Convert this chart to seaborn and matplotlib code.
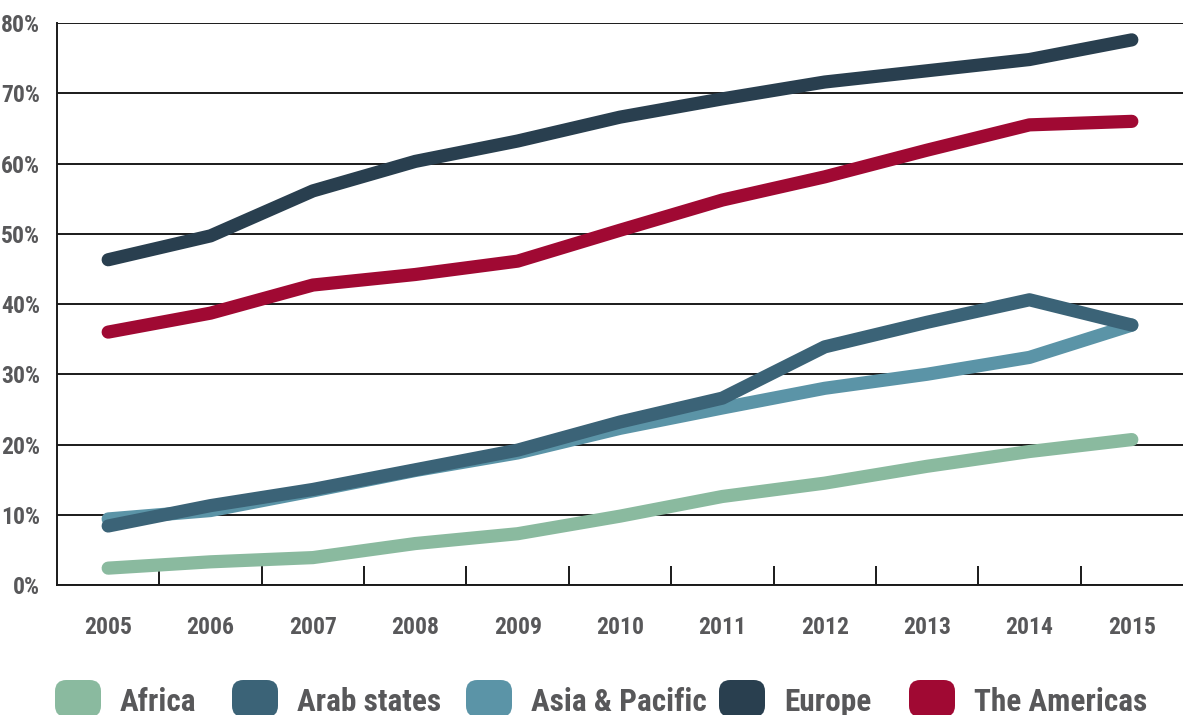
import os
import matplotlib
matplotlib.use("Agg")
import matplotlib.pyplot as plt
import matplotlib.font_manager as fm
import seaborn as sns
import pandas as pd
from matplotlib.patches import FancyBboxPatch
from matplotlib.ticker import FixedLocator, FuncFormatter

years = ["2005", "2006", "2007", "2008", "2009", "2010", "2011", "2012", "2013", "2014", "2015"]
africa = [2.4, 3.3, 3.9, 5.9, 7.3, 9.8, 12.6, 14.5, 16.9, 19.0, 20.7]
arab_states = [8.4, 11.3, 13.6, 16.4, 19.2, 23.2, 26.6, 33.9, 37.4, 40.6, 37.0]
asia_pacific = [9.4, 10.6, 13.4, 16.3, 18.8, 22.3, 25.2, 28.0, 30.0, 32.4, 37.0]
europe = [46.3, 49.7, 56.1, 60.3, 63.2, 66.6, 69.2, 71.6, 73.2, 74.8, 77.6]
americas = [36.0, 38.7, 42.7, 44.2, 46.1, 50.5, 54.8, 58.1, 61.9, 65.5, 66.0]
y_ticks = [0, 10, 20, 30, 40, 50, 60, 70, 80]

series_names = ["Africa", "Arab states", "Asia & Pacific", "Europe", "The Americas"]
series_values = [africa, arab_states, asia_pacific, europe, americas]
colors = {"Africa": "#8aba9f", "Arab states": "#3b6377", "Asia & Pacific": "#5b94a7",
          "Europe": "#293f4f", "The Americas": "#a00933"}

rows = []
for name, vals in zip(series_names, series_values):
    for y, v in zip(years, vals):
        rows.append({"year": y, "value": v, "region": name})
df = pd.DataFrame(rows)
df["x"] = df["year"].map({y: i for i, y in enumerate(years)})


def pick_font():
    files = [f.fname for f in fm.fontManager.ttflist]
    prefs = ["NotoSans-ExtraCondensedBold", "NotoSans-ExtraCondensedSemiBold",
             "RobotoCondensed-Bold", "Roboto_Condensed-Bold", "OpenSans_Condensed-Bold",
             "OpenSans-CondBold", "LiberationSansNarrow-Bold", "NotoSans-CondensedBold",
             "DejaVuSansCondensed-Bold"]
    for p in prefs:
        for f in files:
            if os.path.basename(f).startswith(p):
                return f
    for f in files:
        b = os.path.basename(f).lower()
        if ("condensed" in b or "narrow" in b or "cond" in b) and "bold" in b and "italic" not in b:
            return f
    return None


sns.set_theme(style="white")
plt.rcParams["font.family"] = ["DejaVu Sans"]
font_file = pick_font()


def fprop(size):
    if font_file:
        return fm.FontProperties(fname=font_file, size=size)
    return fm.FontProperties(family="DejaVu Sans", weight="bold", stretch="condensed", size=size)


TXT = "#58585a"
W, H = 1183, 715
fig = plt.figure(figsize=(W / 100, H / 100), dpi=100)
ax = fig.add_axes([57 / W, 1 - 585 / H, 1 - 57 / W, (585 - 23) / H])

draw_order = ["Africa", "Asia & Pacific", "Arab states", "Europe", "The Americas"]
sns.lineplot(data=df, x="x", y="value", hue="region", hue_order=draw_order,
             palette=colors, linewidth=9.5, legend=False, ax=ax,
             solid_capstyle="round", solid_joinstyle="round", zorder=3)

ax.set_xlim(-0.5, len(years) - 0.5)
ax.set_ylim(0, 80)
ax.set_xlabel("")
ax.set_ylabel("")

ax.yaxis.set_major_locator(FixedLocator(y_ticks))
ax.yaxis.set_major_formatter(FuncFormatter(lambda v, p: f"{int(v)}%"))
ax.grid(axis="y", color="#1a1a1a", linewidth=1.4, zorder=1)
ax.set_axisbelow(True)

ax.set_xticks(range(len(years)))
ax.set_xticklabels(years)
ax.set_xticks([i + 0.5 for i in range(len(years) - 1)], minor=True)
ax.tick_params(axis="x", which="major", length=0, pad=22, labelcolor=TXT)
ax.tick_params(axis="x", which="minor", direction="in", length=14, width=1.4, color="#1a1a1a", bottom=True)
ax.tick_params(axis="y", which="major", length=0, pad=12, labelcolor=TXT)

for s in ["top", "right"]:
    ax.spines[s].set_visible(False)
for s in ["left", "bottom"]:
    ax.spines[s].set_color("#1a1a1a")
    ax.spines[s].set_linewidth(1.4)

renderer = fig.canvas.get_renderer()


def width_px(text, size):
    t = fig.text(0, 0, text, fontproperties=fprop(size))
    w = t.get_window_extent(renderer=renderer).width
    t.remove()
    return w


# tick label sizes: target ~17pt, shrink if too wide
tick_size = 17.0
wy = max(width_px(f"{v}%", tick_size) for v in y_ticks)
if wy > 42:
    tick_size *= 42 / wy
for lab in ax.get_yticklabels() + ax.get_xticklabels():
    lab.set_fontproperties(fprop(tick_size))

# legend
legend_x = [55, 232, 466, 719, 909]
next_x = legend_x[1:] + [W]
leg_size = 24.0
ratios = [width_px(n, leg_size) / (nx - (lx + 65) - 12) for n, lx, nx in zip(series_names, legend_x, next_x)]
if max(ratios) > 1:
    leg_size /= max(ratios)
for name, lx in zip(series_names, legend_x):
    p = FancyBboxPatch((lx / W, 1 - 717 / H), 46 / W, 37 / H,
                       boxstyle="round,pad=0,rounding_size=0.0095",
                       transform=fig.transFigure, facecolor=colors[name], edgecolor="none",
                       mutation_aspect=W / H)
    fig.add_artist(p)
    fig.text((lx + 65) / W, 1 - 711 / H, name, fontproperties=fprop(leg_size),
             color=TXT, va="baseline", ha="left")

fig.savefig("out.png", dpi=100)
